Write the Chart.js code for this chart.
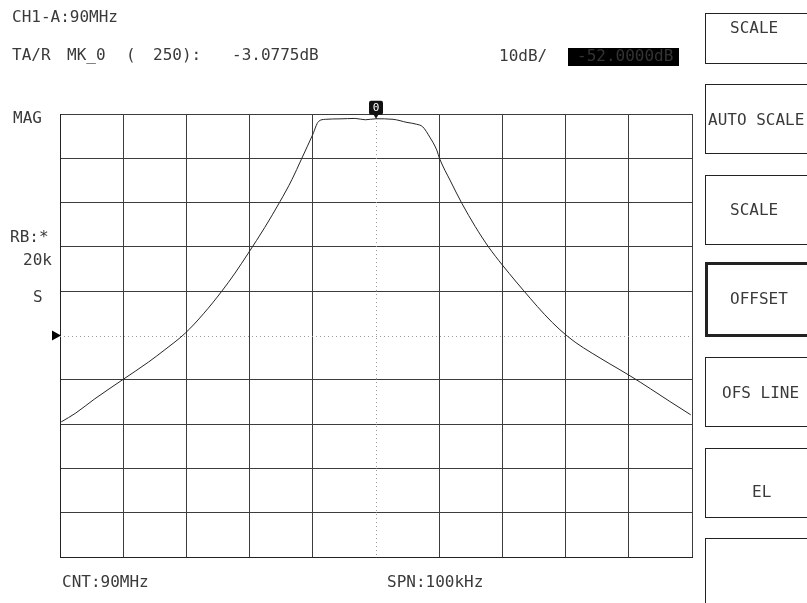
<!DOCTYPE html>
<html lang="en">
<head>
    <meta charset="UTF-8">
    <title>CH1-A Magnitude</title>
    <script src="https://cdn.jsdelivr.net/npm/chart.js"></script>
    <style>
        body { margin: 0; background: #fff; }
        canvas { display: block; }
    </style>
</head>
<body>
    <canvas id="magCanvas" width="807" height="603"></canvas>

    <script>
        // trace: offset from 90 MHz (kHz) and magnitude (dB)
        const FREQ_KHZ = [-49.8, -47.5, -44.5, -40.0, -36.0, -33.4, -30.2, -27.3, -24.4, -22.3,
            -20.2, -17.6, -15.2, -13.3, -11.8, -10.0, -9.1, -8.0, -5.7, -3.3,
            -1.7, 0, 2.7, 4.9, 6.4, 7.4, 8.5, 9.6, 10.1, 11.7,
            13.6, 15.7, 17.8, 20.0, 24.4, 26.7, 29.1, 31.5, 34.2, 37.0,
            40.2, 43.4, 46.5, 49.8];
        const MAG_DB = [-71.5, -69.5, -66.3, -61.9, -58.0, -55.2, -51.5, -47.1, -42.0, -37.9,
            -33.4, -27.6, -21.8, -16.8, -12.2, -6.6, -3.7, -3.2, -3.1, -3.0,
            -3.3, -3.0775, -3.2, -3.9, -4.3, -4.9, -7.2, -10.1, -12.2, -16.9,
            -22.2, -27.4, -32.0, -36.1, -43.6, -47.3, -50.7, -53.5, -56.0, -58.4,
            -61.1, -64.0, -66.9, -69.9];

        const X_GRID = [-50, -40, -30, -20, -10, 0, 10, 20, 30, 40, 50];
        const Y_GRID = [-102, -92, -82, -72, -62, -52, -42, -32, -22, -12, -2];
        const REF_DB = -52;
        const MARKER_KHZ = 0;
        const MARKER_DB = -3.0775;

        const SOFTKEYS = ['SCALE', 'AUTO SCALE', 'SCALE', 'OFFSET', 'OFS LINE', 'EL', ''];

        const FONT = '16px "DejaVu Sans Mono"';
        const INK = '#3a3a3a';

        function txt(ctx, s, x, cy) {
            ctx.font = FONT;
            ctx.fillStyle = INK;
            ctx.textBaseline = 'middle';
            ctx.textAlign = 'left';
            ctx.fillText(s, x, cy);
        }

        const screenPlugin = {
            id: 'screen',
            beforeDraw(chart) {
                const ctx = chart.ctx;
                ctx.save();
                ctx.fillStyle = '#fff';
                ctx.fillRect(0, 0, chart.width, chart.height);
                ctx.restore();
            },
            beforeDatasetsDraw(chart) {
                // dotted centre lines
                const ctx = chart.ctx;
                const xs = chart.scales.x, ys = chart.scales.y;
                const a = chart.chartArea;
                const cx = Math.round(xs.getPixelForValue(0)) + 0.5;
                const cy = Math.round(ys.getPixelForValue(REF_DB)) + 0.5;
                ctx.save();
                ctx.strokeStyle = '#9a9a9a';
                ctx.lineWidth = 1;
                ctx.setLineDash([1, 3]);
                ctx.beginPath();
                ctx.moveTo(cx, a.top);
                ctx.lineTo(cx, a.bottom);
                ctx.moveTo(a.left, cy);
                ctx.lineTo(a.right, cy);
                ctx.stroke();
                ctx.restore();
            },
            afterDraw(chart) {
                const ctx = chart.ctx;
                const xs = chart.scales.x, ys = chart.scales.y;
                ctx.save();

                // header
                txt(ctx, 'CH1-A:90MHz', 12, 18);
                txt(ctx, 'TA/R', 12, 56);
                txt(ctx, 'MK_0', 67, 56);
                txt(ctx, '(', 126, 56);
                txt(ctx, '250):', 153, 56);
                txt(ctx, '-3.0775dB', 232, 56);
                txt(ctx, '10dB/', 499, 57);

                ctx.fillStyle = '#000';
                ctx.fillRect(568, 48, 111, 18);
                ctx.font = FONT;
                ctx.fillStyle = '#333';
                ctx.fillText('-52.0000dB', 577, 57);

                // left labels
                txt(ctx, 'MAG', 13, 119);
                txt(ctx, 'RB:*', 10, 238);
                txt(ctx, '20k', 23, 261);
                txt(ctx, 'S', 33, 298);

                // reference arrow on the centre line
                const ry = ys.getPixelForValue(REF_DB);
                const lx = chart.chartArea.left;
                ctx.fillStyle = '#000';
                ctx.beginPath();
                ctx.moveTo(lx - 8, ry - 5);
                ctx.lineTo(lx + 1, ry);
                ctx.lineTo(lx - 8, ry + 5);
                ctx.closePath();
                ctx.fill();

                // bottom labels
                txt(ctx, 'CNT:90MHz', 62, 583);
                txt(ctx, 'SPN:100kHz', 387, 583);

                // marker 0
                const mx = xs.getPixelForValue(MARKER_KHZ);
                const my = ys.getPixelForValue(MARKER_DB);
                ctx.fillStyle = '#111';
                ctx.beginPath();
                ctx.roundRect(mx - 7, my - 18, 14, 14, 2);
                ctx.fill();
                ctx.beginPath();
                ctx.moveTo(mx - 3, my - 5);
                ctx.lineTo(mx + 3, my - 5);
                ctx.lineTo(mx, my);
                ctx.closePath();
                ctx.fill();
                ctx.font = '11px "DejaVu Sans Mono"';
                ctx.fillStyle = '#fff';
                ctx.textAlign = 'center';
                ctx.textBaseline = 'middle';
                ctx.fillText('0', mx, my - 11);

                // softkey boxes
                const boxes = [[13, 63], [84, 153], [175, 244], [263, 335], [357, 426], [448, 517], [538, 640]];
                const textY = [29, 121, 211, 300, 394, 493, 0];
                const textX = [730, 708, 730, 730, 722, 752, 0];
                boxes.forEach((b, i) => {
                    ctx.strokeStyle = '#222';
                    ctx.lineWidth = i === 3 ? 3 : 1;
                    const left = i === 3 ? 706.5 : 705.5;
                    ctx.strokeRect(left, b[0] + 0.5, 130, b[1] - b[0]);
                    if (SOFTKEYS[i]) txt(ctx, SOFTKEYS[i], textX[i], textY[i]);
                });

                ctx.restore();
            }
        };

        function plotTrace() {
            const ctx = document.getElementById('magCanvas').getContext('2d');
            const points = FREQ_KHZ.map((f, i) => ({ x: f, y: MAG_DB[i] }));
            const gridColor = c => (c.tick && c.tick.value === 0) ? 'rgba(0,0,0,0)' : '#3c3c3c';
            const gridColorY = c => (c.tick && c.tick.value === REF_DB) ? 'rgba(0,0,0,0)' : '#3c3c3c';

            new Chart(ctx, {
                type: 'line',
                data: {
                    datasets: [{
                        label: 'MAG',
                        data: points,
                        borderColor: '#262626',
                        borderWidth: 1,
                        pointRadius: 0,
                        fill: false,
                        cubicInterpolationMode: 'monotone'
                    }]
                },
                options: {
                    responsive: false,
                    animation: false,
                    events: [],
                    layout: { padding: { left: 60, right: 115, top: 114, bottom: 46 } },
                    plugins: { legend: { display: false }, tooltip: { enabled: false } },
                    scales: {
                        x: {
                            type: 'linear',
                            min: -50,
                            max: 50,
                            afterBuildTicks: s => { s.ticks = X_GRID.map(v => ({ value: v })); },
                            ticks: { display: false },
                            grid: { color: gridColor, lineWidth: 1, drawTicks: false },
                            border: { display: true, color: '#222' }
                        },
                        y: {
                            min: -102,
                            max: -2,
                            afterBuildTicks: s => { s.ticks = Y_GRID.map(v => ({ value: v })); },
                            ticks: { display: false },
                            grid: { color: gridColorY, lineWidth: 1, drawTicks: false },
                            border: { display: true, color: '#222' }
                        }
                    }
                },
                plugins: [screenPlugin]
            });
        }

        document.addEventListener('DOMContentLoaded', plotTrace);
    </script>
</body>
</html>
